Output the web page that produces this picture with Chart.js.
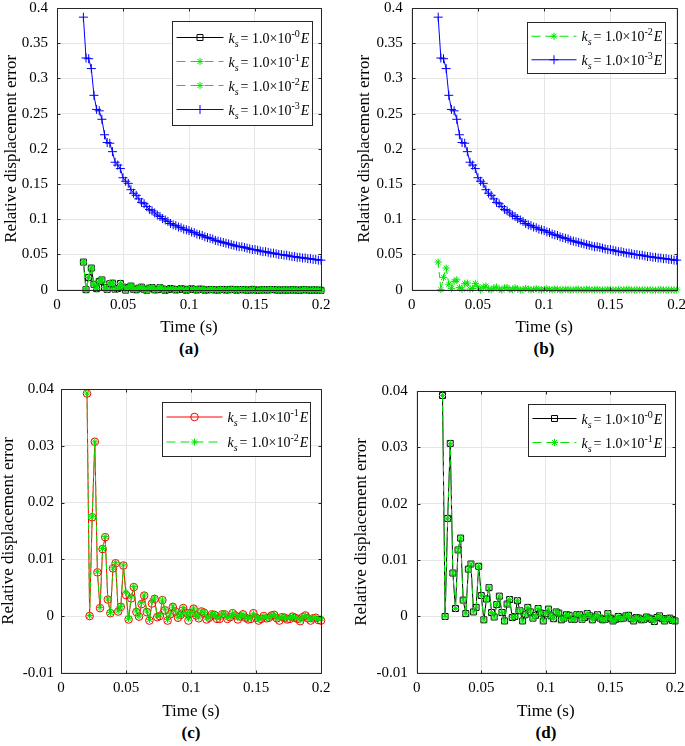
<!DOCTYPE html>
<html>
<head>
<meta charset="utf-8">
<script src="https://cdn.jsdelivr.net/npm/chart.js@4.4.1/dist/chart.umd.min.js"></script>
<style>
html, body { margin: 0; padding: 0; background: #fff; overflow: hidden; width: 685px; height: 746px; }
canvas { position: absolute; }
.tag { position: absolute; font: bold 17px 'Liberation Serif', 'Times New Roman', serif; transform: translate(-50%, -50%); }
</style>
</head>
<body>
<canvas id="chartA" width="340" height="346" style="left:0;top:-10px"></canvas>
<canvas id="chartB" width="360" height="346" style="left:340px;top:-10px"></canvas>
<canvas id="chartC" width="340" height="347" style="left:0;top:373px"></canvas>
<canvas id="chartD" width="360" height="347" style="left:340px;top:373px"></canvas>
<div class="tag" style="left:189px;top:349px">(a)</div>
<div class="tag" style="left:544px;top:349px">(b)</div>
<div class="tag" style="left:191px;top:733px">(c)</div>
<div class="tag" style="left:546px;top:733px">(d)</div>
<script>
// time samples (s)
const times = [
  0.020, 0.022, 0.024, 0.026, 0.028, 0.030, 0.032, 0.034, 0.036, 0.038,
  0.040, 0.042, 0.044, 0.046, 0.048, 0.050, 0.052, 0.054, 0.056, 0.058,
  0.060, 0.062, 0.064, 0.066, 0.068, 0.070, 0.072, 0.074, 0.076, 0.078,
  0.080, 0.082, 0.084, 0.086, 0.088, 0.090, 0.092, 0.094, 0.096, 0.098,
  0.100, 0.102, 0.104, 0.106, 0.108, 0.110, 0.112, 0.114, 0.116, 0.118,
  0.120, 0.122, 0.124, 0.126, 0.128, 0.130, 0.132, 0.134, 0.136, 0.138,
  0.140, 0.142, 0.144, 0.146, 0.148, 0.150, 0.152, 0.154, 0.156, 0.158,
  0.160, 0.162, 0.164, 0.166, 0.168, 0.170, 0.172, 0.174, 0.176, 0.178,
  0.180, 0.182, 0.184, 0.186, 0.188, 0.190, 0.192, 0.194, 0.196, 0.198,
  0.200
];

// ks = 1.0x10^-0 E
const errK0 = [
  0.0392, 0.0000, 0.0174, 0.0307, 0.0077, 0.0014, 0.0118, 0.0139, 0.0029, 0.0005,
  0.0084, 0.0093, 0.0008, 0.0016, 0.0089, 0.0037, -0.0006, 0.0031, 0.0051, 0.0007,
  -0.0001, 0.0021, 0.0036, 0.0007, -0.0008, 0.0022, 0.0030, -0.0002, 0.0000, 0.0028,
  0.0010, -0.0008, 0.0003, 0.0016, 0.0008, -0.0003, 0.0002, 0.0014, 0.0006, -0.0008,
  0.0005, 0.0013, 0.0001, -0.0004, 0.0008, 0.0006, -0.0006, -0.0003, 0.0003, 0.0002,
  -0.0005, -0.0005, 0.0003, 0.0003, -0.0005, -0.0002, 0.0005, 0.0001, -0.0006, -0.0001,
  0.0003, -0.0003, -0.0006, -0.0005, 0.0005, -0.0003, -0.0008, -0.0005, 0.0000, -0.0004,
  -0.0003, 0.0001, 0.0002, -0.0004, -0.0008, -0.0002, -0.0003, -0.0006, -0.0005, -0.0001,
  -0.0003, -0.0005, -0.0009, -0.0002, 0.0001, -0.0004, -0.0008, -0.0004, -0.0003, -0.0007,
  -0.0008
];

// ks = 1.0x10^-1 E
const errK1 = [
  0.0392, 0.0000, 0.0174, 0.0307, 0.0077, 0.0014, 0.0118, 0.0139, 0.0029, 0.0005,
  0.0084, 0.0093, 0.0008, 0.0016, 0.0089, 0.0037, -0.0006, 0.0031, 0.0051, 0.0007,
  -0.0001, 0.0021, 0.0036, 0.0007, -0.0008, 0.0022, 0.0030, -0.0002, 0.0000, 0.0028,
  0.0010, -0.0008, 0.0003, 0.0016, 0.0008, -0.0003, 0.0002, 0.0014, 0.0006, -0.0008,
  0.0005, 0.0013, 0.0001, -0.0004, 0.0008, 0.0006, -0.0006, -0.0003, 0.0003, 0.0002,
  -0.0005, -0.0005, 0.0003, 0.0003, -0.0005, -0.0002, 0.0005, 0.0001, -0.0006, -0.0001,
  0.0003, -0.0003, -0.0006, -0.0005, 0.0005, -0.0003, -0.0008, -0.0005, 0.0000, -0.0004,
  -0.0003, 0.0001, 0.0002, -0.0004, -0.0008, -0.0002, -0.0003, -0.0006, -0.0005, -0.0001,
  -0.0003, -0.0005, -0.0009, -0.0002, 0.0001, -0.0004, -0.0008, -0.0004, -0.0003, -0.0007,
  -0.0008
];

// ks = 1.0x10^-2 E
const errK2 = [
  0.0393, 0.0001, 0.0175, 0.0307, 0.0078, 0.0015, 0.0119, 0.0140, 0.0030, 0.0006,
  0.0085, 0.0094, 0.0009, 0.0017, 0.0090, 0.0042, -0.0004, 0.0034, 0.0052, 0.0009,
  0.0000, 0.0024, 0.0037, 0.0009, -0.0006, 0.0026, 0.0032, 0.0000, 0.0002, 0.0028,
  0.0012, -0.0006, 0.0004, 0.0018, 0.0009, -0.0002, 0.0003, 0.0015, 0.0006, -0.0004,
  0.0006, 0.0014, 0.0002, -0.0002, 0.0009, 0.0006, -0.0003, -0.0002, 0.0004, 0.0003,
  -0.0003, -0.0002, 0.0004, 0.0004, -0.0003, -0.0001, 0.0005, 0.0002, -0.0003, 0.0000,
  0.0003, -0.0002, -0.0004, -0.0003, 0.0004, -0.0002, -0.0005, -0.0004, 0.0000, -0.0003,
  -0.0002, 0.0001, 0.0002, -0.0003, -0.0005, -0.0001, -0.0002, -0.0004, -0.0004, -0.0001,
  -0.0002, -0.0004, -0.0007, -0.0002, 0.0001, -0.0003, -0.0005, -0.0003, -0.0003, -0.0005,
  -0.0004
];

// ks = 1.0x10^-3 E
const errK3 = [
  0.387, 0.329, 0.328, 0.314, 0.276, 0.256, 0.254, 0.242, 0.220, 0.209,
  0.208, 0.196, 0.181, 0.177, 0.172, 0.159, 0.154, 0.151, 0.142, 0.137,
  0.134, 0.129, 0.124, 0.122, 0.118, 0.114, 0.112, 0.109, 0.106, 0.104,
  0.101, 0.099, 0.097, 0.094, 0.092, 0.091, 0.089, 0.088, 0.086, 0.085,
  0.084, 0.082, 0.081, 0.079, 0.078, 0.077, 0.075, 0.074, 0.073, 0.072,
  0.070, 0.069, 0.068, 0.067, 0.066, 0.065, 0.064, 0.063, 0.062, 0.061,
  0.061, 0.060, 0.059, 0.058, 0.057, 0.057, 0.056, 0.055, 0.054, 0.054,
  0.053, 0.052, 0.052, 0.051, 0.050, 0.050, 0.049, 0.049, 0.048, 0.047,
  0.047, 0.046, 0.046, 0.045, 0.045, 0.044, 0.044, 0.043, 0.043, 0.042,
  0.042
];

const xTicks = [0, 0.05, 0.1, 0.15, 0.2];
const yTicksTop = [0, 0.05, 0.1, 0.15, 0.2, 0.25, 0.3, 0.35, 0.4];
const yTicksBottom = [-0.01, 0, 0.01, 0.02, 0.03, 0.04];

const FONT = "'Liberation Serif', 'Times New Roman', serif";
const GREEN = '#00e600';

const styles = {
  k0: { expo: '-0', color: '#000000', dash: [], legendDash: [], point: 'rect', r: 4.2 },
  k1: { expo: '-1', color: GREEN, dash: [6, 4], legendDash: [9, 5], point: 'star', r: 3.6 },
  k1red: { expo: '-1', color: '#ff0000', dash: [], legendDash: [], point: 'circle', r: 3.8 },
  k2: { expo: '-2', color: GREEN, dash: [6, 4], legendDash: [9, 5], point: 'star', r: 3.6 },
  k3: { expo: '-3', color: '#0000ff', dash: [], legendDash: [], point: 'cross', r: 4.5 }
};

function makeDataset(values, st, idx, n) {
  return {
    data: times.map((t, i) => ({ x: t, y: values[i] })),
    borderColor: st.color,
    borderWidth: 1,
    borderDash: st.dash,
    pointStyle: st.point,
    pointRadius: st.r,
    pointBorderColor: st.color,
    pointBackgroundColor: 'rgba(0,0,0,0)',
    pointBorderWidth: 1,
    tension: 0,
    clip: false,
    order: n - idx,   // later series drawn on top, like matlab
    expo: st.expo,
    legendDash: st.legendDash
  };
}

/* -------- frame + inward ticks -------- */
const framePlugin = {
  id: 'frame',
  afterDatasetsDraw(chart) {
    const { ctx, chartArea: a, scales } = chart;
    const L = Math.round(a.left) + 0.5, R = Math.round(a.right) + 0.5;
    const T = Math.round(a.top) + 0.5, B = Math.round(a.bottom) + 0.5;
    ctx.save();
    ctx.strokeStyle = '#262626';
    ctx.lineWidth = 1;
    ctx.beginPath();
    ctx.rect(L, T, R - L, B - T);
    scales.x.ticks.forEach(t => {
      const px = Math.round(scales.x.getPixelForValue(t.value)) + 0.5;
      ctx.moveTo(px, B); ctx.lineTo(px, B - 3);
      ctx.moveTo(px, T); ctx.lineTo(px, T + 3);
    });
    scales.y.ticks.forEach(t => {
      const py = Math.round(scales.y.getPixelForValue(t.value)) + 0.5;
      ctx.moveTo(L, py); ctx.lineTo(L + 3, py);
      ctx.moveTo(R, py); ctx.lineTo(R - 3, py);
    });
    ctx.stroke();
    ctx.restore();
  }
};

/* -------- legend with k_s = 1.0x10^n E -------- */
const legendPlugin = {
  id: 'kLegend',
  afterDatasetsDraw(chart, args, opts) {
    const { ctx, chartArea: a } = chart;
    const items = opts.items;
    const h = opts.padY * 2 + opts.rowH * items.length;
    const x0 = Math.round(a.right - opts.right - opts.width) + 0.5;
    const y0 = Math.round(a.top + opts.top) + 0.5;
    ctx.save();
    ctx.fillStyle = '#fff';
    ctx.fillRect(x0, y0, opts.width, h);
    ctx.strokeStyle = '#262626';
    ctx.lineWidth = 1;
    ctx.strokeRect(x0, y0, opts.width, h);

    items.forEach((di, k) => {
      const ds = chart.data.datasets[di];
      const cy = y0 + opts.padY + opts.rowH * (k + 0.5);
      const sx1 = x0 + 4, sx2 = x0 + 4 + opts.sample;
      ctx.strokeStyle = ds.borderColor;
      ctx.lineWidth = 1;
      ctx.setLineDash(ds.legendDash);
      ctx.beginPath();
      ctx.moveTo(sx1, cy); ctx.lineTo(sx2, cy);
      ctx.stroke();
      ctx.setLineDash([]);
      ctx.fillStyle = 'rgba(0,0,0,0)';
      Chart.helpers.drawPoint(ctx, { pointStyle: ds.pointStyle, radius: ds.pointRadius, borderWidth: 1, rotation: 0 }, (sx1 + sx2) / 2, cy);

      ctx.fillStyle = '#000';
      ctx.textBaseline = 'alphabetic';
      const base = cy + 5;
      let tx = sx2 + 5;
      ctx.font = 'italic ' + opts.size + 'px ' + FONT;
      ctx.fillText('k', tx, base);
      tx += ctx.measureText('k').width;
      ctx.font = 'italic ' + opts.small + 'px ' + FONT;
      ctx.fillText('s', tx, base + 4);
      tx += ctx.measureText('s').width + 2;
      ctx.font = opts.size + 'px ' + FONT;
      const mid = '= 1.0\u00d710';
      ctx.fillText(mid, tx, base);
      tx += ctx.measureText(mid).width;
      ctx.font = opts.small + 'px ' + FONT;
      ctx.fillText(ds.expo, tx, base - 6);
      tx += ctx.measureText(ds.expo).width + 1;
      ctx.font = 'italic ' + opts.size + 'px ' + FONT;
      ctx.fillText('E', tx, base);
    });
    ctx.restore();
  }
};

function fmt(v) { return String(+v.toFixed(3)); }

function buildChart(id, cfg) {
  const n = cfg.series.length;
  const datasets = cfg.series.map((s, i) => makeDataset(s[0], styles[s[1]], i, n));
  return new Chart(document.getElementById(id), {
    type: 'line',
    data: { datasets },
    options: {
      responsive: false,
      animation: false,
      layout: { padding: { top: 16, right: cfg.padRight, bottom: 0, left: 0 } },
      plugins: {
        legend: { display: false },
        tooltip: { enabled: false },
        kLegend: cfg.legend
      },
      scales: {
        x: {
          type: 'linear', min: 0, max: 0.2,
          afterBuildTicks: s => { s.ticks = xTicks.map(v => ({ value: v })); },
          afterFit: s => { s.height = cfg.xH; },
          grid: { color: '#e6e6e6', drawTicks: false },
          border: { display: false },
          ticks: { padding: 6, color: '#000', autoSkip: false, maxRotation: 0, font: { family: FONT, size: 15 }, callback: fmt },
          title: { display: true, text: 'Time (s)', color: '#000', font: { family: FONT, size: 17, lineHeight: 1 }, padding: { top: 0, bottom: 0 } }
        },
        y: {
          type: 'linear', min: cfg.yMin, max: cfg.yMax,
          afterBuildTicks: s => { s.ticks = cfg.yTicks.map(v => ({ value: v })); },
          afterFit: s => { s.width = cfg.yW; },
          grid: { color: '#e6e6e6', drawTicks: false },
          border: { display: false },
          ticks: { padding: cfg.yPad, color: '#000', autoSkip: false, font: { family: FONT, size: 15 }, callback: fmt },
          title: { display: true, text: 'Relative displacement error', color: '#000', font: { family: FONT, size: 17, lineHeight: 1 }, padding: { top: cfg.titlePad, bottom: 0 } }
        }
      }
    },
    plugins: [framePlugin, legendPlugin]
  });
}

buildChart('chartA', {
  series: [[errK0, 'k0'], [errK1, 'k1'], [errK2, 'k2'], [errK3, 'k3']],
  yMin: 0, yMax: 0.4, yTicks: yTicksTop,
  padRight: 19, yW: 57, xH: 46.3, yPad: 9, titlePad: 3.5,
  legend: { items: [0, 1, 2, 3], width: 140, right: 9.5, top: 13, padY: 4, rowH: 24, sample: 47, size: 14, small: 10 }
});

buildChart('chartB', {
  series: [[errK2, 'k2'], [errK3, 'k3']],
  yMin: 0, yMax: 0.4, yTicks: yTicksTop,
  padRight: 23.3, yW: 71.7, xH: 46.3, yPad: 9, titlePad: 16.5,
  legend: { items: [0, 1], width: 138, right: 11.5, top: 14, padY: 2, rowH: 23.5, sample: 45, size: 14, small: 10 }
});

buildChart('chartC', {
  series: [[errK1, 'k1red'], [errK2, 'k2']],
  yMin: -0.01, yMax: 0.04, yTicks: yTicksBottom,
  padRight: 19, yW: 61, xH: 47.2, yPad: 7, titlePad: 0,
  legend: { items: [0, 1], width: 148, right: 11, top: 12.7, padY: 2, rowH: 25, sample: 56, size: 14, small: 10 }
});

buildChart('chartD', {
  series: [[errK0, 'k0'], [errK1, 'k1']],
  yMin: -0.01, yMax: 0.04, yTicks: yTicksBottom,
  padRight: 25, yW: 76.7, xH: 47.2, yPad: 9, titlePad: 13.5,
  legend: { items: [0, 1], width: 137, right: 10, top: 12.7, padY: 2, rowH: 24, sample: 44, size: 14, small: 10 }
});
</script>
</body>
</html>
